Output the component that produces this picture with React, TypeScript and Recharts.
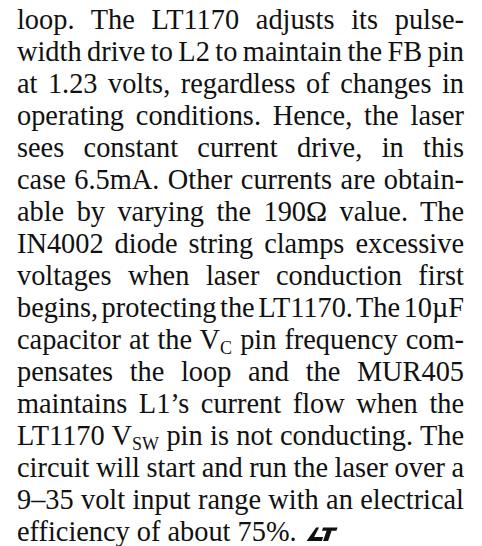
import { useLayoutEffect, useRef, useState } from 'react';
import { Surface, Layer } from 'recharts';

/**
 * Justified text column (app note excerpt) drawn on a Recharts Surface.
 * Lines are measured after mount and justified with word / letter spacing.
 */

const lines: string[] = [
  'loop. The LT1170 adjusts its pulse-',
  'width drive to L2 to maintain the FB pin',
  'at 1.23 volts, regardless of changes in',
  'operating conditions. Hence, the laser',
  'sees constant current drive, in this',
  'case 6.5mA. Other currents are obtain-',
  'able by varying the 190Ω value. The',
  'IN4002 diode string clamps excessive',
  'voltages when laser conduction first',
  'begins, protecting the LT1170. The 10µF',
  'capacitor at the V_{C} pin frequency com-',
  'pensates the loop and the MUR405',
  'maintains L1’s current flow when the',
  'LT1170 V_{SW} pin is not conducting. The',
  'circuit will start and run the laser over a',
  '9–35 volt input range with an electrical',
  'efficiency of about 75%.',
];

const WIDTH = 482;
const HEIGHT = 546;
const LEFT = 17;
const RIGHT = 464;
const FIRST_BASELINE = 29;
const PITCH = 32.0;
const FONT_SIZE = 30;
const SUB_SIZE = 19;
const SUB_SHIFT = 5;
const SCALE_X = 0.945;

interface Spacing {
  word: number;
  letter: number;
}

const parse = (line: string) =>
  line
    .split(/(_\{[^}]+\})/)
    .filter((s) => s.length > 0)
    .map((s) => (s.startsWith('_{') ? { text: s.slice(2, -1), sub: true } : { text: s, sub: false }));

const plain = (line: string) => parse(line).map((p) => p.text).join('');

function LtLogo({ x, y }: { x: number; y: number }) {
  return (
    <g transform={`translate(${x},${y})`} fill="#111">
      <polygon points="9.5,0 12.5,0 7.5,9.5 16.5,9.5 15.3,13.5 0,13.5" />
      <polygon points="16.5,0 31,0 29.8,3.2 25,3.2 21.5,13.5 16.5,13.5 20,3.2 15.3,3.2" />
    </g>
  );
}

export default function App() {
  const refs = useRef<(SVGTextElement | null)[]>([]);
  const [spacing, setSpacing] = useState<Spacing[] | null>(null);
  const [lastWidth, setLastWidth] = useState(0);

  useLayoutEffect(() => {
    const target = (RIGHT - LEFT) / SCALE_X;
    const result = lines.map((line, i) => {
      const el = refs.current[i];
      if (!el) return { word: 0, letter: 0 };
      const len = el.getComputedTextLength();
      if (i === lines.length - 1) {
        setLastWidth(len);
        return { word: 0, letter: 0 };
      }
      const text = plain(line);
      const spaces = text.split(' ').length - 1;
      let word = spaces > 0 ? (target - len) / spaces : 0;
      let letter = 0;
      const minWord = -0.19 * FONT_SIZE;
      if (word < minWord) {
        word = minWord;
        letter = (target - (len + spaces * word)) / text.length;
      }
      return { word, letter };
    });
    setSpacing(result);
  }, []);

  return (
    <div style={{ position: 'fixed', left: 0, top: 0, background: '#fff' }}>
      <Surface width={WIDTH} height={HEIGHT}>
        <rect width={WIDTH} height={HEIGHT} fill="#fff" />
        <Layer className="text-column">
          <g transform={`translate(${LEFT},0) scale(${SCALE_X},1)`}>
            {lines.map((line, i) => {
              const parts = parse(line);
              const sp = spacing ? spacing[i] : { word: 0, letter: 0 };
              let shifted = false;
              return (
                <text
                  key={i}
                  ref={(el) => {
                    refs.current[i] = el;
                  }}
                  x={0}
                  y={FIRST_BASELINE + i * PITCH}
                  fontFamily="'Liberation Serif', 'Times New Roman', serif"
                  fontSize={FONT_SIZE}
                  fill="#111"
                  style={{ wordSpacing: `${sp.word}px`, letterSpacing: `${sp.letter}px`, whiteSpace: 'pre' }}
                >
                  {parts.map((p, j) => {
                    if (p.sub) {
                      shifted = true;
                      return (
                        <tspan key={j} dy={SUB_SHIFT} fontSize={SUB_SIZE}>
                          {p.text}
                        </tspan>
                      );
                    }
                    const dy = shifted ? -SUB_SHIFT : undefined;
                    shifted = false;
                    return (
                      <tspan key={j} dy={dy}>
                        {p.text}
                      </tspan>
                    );
                  })}
                </text>
              );
            })}
          </g>
          {lastWidth > 0 && (
            <LtLogo x={LEFT + lastWidth * SCALE_X + 10} y={FIRST_BASELINE + (lines.length - 1) * PITCH - 13.5} />
          )}
        </Layer>
      </Surface>
    </div>
  );
}
